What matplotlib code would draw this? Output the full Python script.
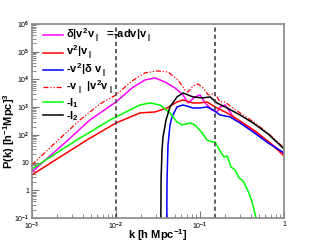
import numpy as np
import matplotlib
matplotlib.use("Agg")
import matplotlib.pyplot as plt
from matplotlib.ticker import LogLocator, FuncFormatter, NullFormatter

plt.rcParams['font.family'] = ['Liberation Sans', 'DejaVu Sans']
plt.rcParams['mathtext.fontset'] = 'custom'
plt.rcParams['mathtext.rm'] = 'Liberation Sans:bold'
plt.rcParams['mathtext.it'] = 'Liberation Sans:bold'
plt.rcParams['mathtext.bf'] = 'Liberation Sans:bold'

# ---- values ----
k_adv = [0.001, 0.00261, 0.0049, 0.01, 0.0155, 0.0221, 0.0291, 0.0383, 0.0504,
         0.0628, 0.072, 0.0871, 0.1, 0.115, 0.139, 0.159, 0.173, 0.199, 0.228,
         0.261, 0.299, 0.452, 0.681, 1.0]
p_adv = [4.6, 60.3, 345, 1540, 4930, 9600, 11300, 8130, 4930,
         2760, 1420, 2340, 2760, 1420, 793, 671, 1020, 1200, 671,
         345, 292, 127, 51.1, 20.4]

k_v2v = [0.001, 0.00452, 0.01, 0.0193, 0.0291, 0.0405, 0.0532, 0.0628, 0.0826,
         0.1, 0.121, 0.159, 0.210, 0.299, 0.452, 0.681, 1.0]
p_v2v = [3.6, 65.5, 269, 618, 671, 935, 1540, 1820, 1420,
         1420, 1540, 935, 618, 318, 138, 51.1, 17.3]

k_v2d = [0.0399, 0.0405, 0.0416, 0.0439, 0.0464, 0.0532, 0.0628, 0.0826, 0.1,
         0.121, 0.143, 0.173, 0.228, 0.299, 0.428, 0.645, 1.0]
p_v2d = [0.001, 2.4, 43.2, 228, 443, 1020, 1200, 935, 935,
         1020, 793, 523, 443, 269, 127, 51.1, 22.2]

k_vv2 = [0.001, 0.002, 0.00373, 0.00645, 0.01, 0.0155, 0.0221, 0.0308, 0.0416,
         0.0547, 0.0663, 0.072, 0.0826, 0.0946, 0.109, 0.125, 0.143, 0.159,
         0.173, 0.199, 0.228, 0.299, 0.452, 0.681, 1.0]
p_vv2 = [8.2, 60.3, 345, 1310, 2760, 8830, 17200, 20300, 18700,
         9600, 4180, 3540, 5830, 6890, 4930, 2760, 3000, 2340,
         1540, 1540, 1100, 618, 269, 99, 33.7]

k_i1 = [0.001, 0.00343, 0.0085, 0.01, 0.0147, 0.0193, 0.0254, 0.0334, 0.0439,
        0.0532, 0.0611, 0.076, 0.0871, 0.106, 0.121, 0.139, 0.151, 0.173,
        0.193, 0.210, 0.234, 0.261, 0.291, 0.325, 0.373, 0.416, 0.464]
p_i1 = [5.9, 65.5, 345, 443, 793, 1200, 1420, 1200, 618,
        292, 228, 269, 228, 117, 65.5, 55.5, 55.5, 26.2,
        15.9, 17.3, 6.9, 5.4, 2.8, 2.17, 0.94, 0.38, 0.1]

k_i2 = [0.0339, 0.0344, 0.0353, 0.0363, 0.0394, 0.0439, 0.0532, 0.0628, 0.0826,
        0.106, 0.132, 0.159, 0.210, 0.299, 0.428, 0.645, 1.0]
p_i2 = [0.001, 2.4, 28.5, 84, 345, 1020, 2340, 3260, 2340,
        2150, 2340, 1420, 935, 523, 269, 108, 31.0]

k_marks = [0.01, 0.151]

labels = [r'$\delta|v^2v_{\parallel}$  =-adv$|v_{\parallel}$',
          r'$v^2|v_{\parallel}$',
          r'-$v^2|\delta\ v_{\parallel}$',
          r'-$v_{\parallel}\ |v^2v_{\parallel}$',
          r'-I$_1$',
          r'-I$_2$']

# ---- plot ----
fig = plt.figure(figsize=(3.16, 2.43), dpi=100)
ax = fig.add_axes([0.101, 0.103, 0.798, 0.798])

lw = 1.1
ax.plot(k_adv, p_adv, color='#ff00ff', lw=lw, label=labels[0])
ax.plot(k_v2v, p_v2v, color='#ff0000', lw=lw, label=labels[1])
ax.plot(k_v2d, p_v2d, color='#0000ff', lw=lw, label=labels[2])
ax.plot(k_vv2, p_vv2, color='#ff0000', lw=0.9, dashes=(4, 1.5, 1, 1.5, 1, 1.5),
        label=labels[3])
ax.plot(k_i1, p_i1, color='#00ff00', lw=lw, label=labels[4])
ax.plot(k_i2, p_i2, color='black', lw=lw, label=labels[5])

for km in k_marks:
    ax.axvline(km, color='#444444', lw=1.2, dashes=(2.5, 1.8))

ax.set_xscale('log')
ax.set_yscale('log')
ax.set_xlim(1e-3, 1)
ax.set_ylim(0.1, 1e6)


def fmt(v, pos):
    e = int(round(np.log10(v)))
    if e == 0:
        return '1'
    if e == 1:
        return '10'
    return r'10$^{%d}$' % e


for axis in (ax.xaxis, ax.yaxis):
    axis.set_major_locator(LogLocator(base=10, numticks=20))
    axis.set_minor_locator(LogLocator(base=10, subs=np.arange(2, 10), numticks=20))
    axis.set_major_formatter(FuncFormatter(fmt))
    axis.set_minor_formatter(NullFormatter())

ax.tick_params(which='both', direction='in', top=False, right=False,
               color='#777777', labelsize=5, pad=2)
ax.tick_params(which='major', length=5, width=0.8)
ax.tick_params(which='minor', length=3, width=0.6)
for s in ax.spines.values():
    s.set_color('#888888')
    s.set_linewidth(1.2)

ax.set_xlabel(r'k [h Mpc$^{-1}$]', fontsize=8, fontweight='bold')
ax.set_ylabel(r'P(k) [h$^{-1}$Mpc]$^3$', fontsize=8, fontweight='bold')
ax.xaxis.set_label_coords(0.5, -0.048)
ax.yaxis.set_label_coords(-0.06, 0.45)

leg = ax.legend(loc='upper left', bbox_to_anchor=(0.02, 1.015), frameon=False,
                fontsize=8, handlelength=1.8, handletextpad=0.3,
                labelspacing=-0.08, borderaxespad=0.1)
for t in leg.get_texts():
    t.set_fontweight('bold')

fig.savefig('out.png', dpi=100)
